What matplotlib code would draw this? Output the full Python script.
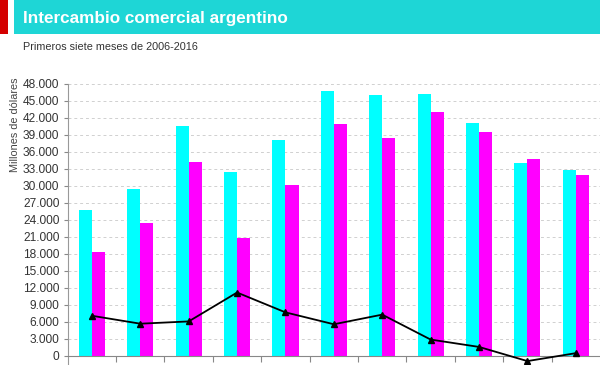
import matplotlib.pyplot as plt
from matplotlib.patches import Rectangle
from matplotlib.ticker import FuncFormatter
import numpy as np

plt.rcParams['font.family'] = ['Liberation Sans', 'DejaVu Sans']

years = ['2006', '2007', '2008', '2009', '2010', '2011', '2012', '2013', '2014', '2015', '2016']
exportaciones = [25700, 29400, 40600, 32400, 38200, 46800, 46000, 46300, 41200, 34100, 32800]
importaciones = [18300, 23400, 34300, 20900, 30200, 40900, 38400, 43100, 39500, 34700, 31900]
saldo = [7100, 5700, 6100, 11200, 7700, 5600, 7300, 2900, 1600, -900, 500]

fig = plt.figure(figsize=(6, 3.65), dpi=100)

# banner
fig.patches.append(Rectangle((0, 0.907), 8 / 600, 0.093, transform=fig.transFigure,
                             facecolor='#d40000', edgecolor='none'))
fig.patches.append(Rectangle((14 / 600, 0.907), 1, 0.093, transform=fig.transFigure,
                             facecolor='#1ed6d6', edgecolor='none'))
fig.text(23 / 600, 1 - 18 / 365, 'Intercambio comercial argentino', color='white',
         fontsize=12.3, fontweight='bold', va='center', ha='left')
fig.text(23 / 600, 1 - 47 / 365, 'Primeros siete meses de 2006-2016', color='#333333',
         fontsize=7.8, va='center', ha='left')
fig.text(15 / 600, 1 - 77 / 365, 'Millones de dólares', color='#444444',
         fontsize=7.8, rotation=90, va='top', ha='center')

ax = fig.add_axes([67.7 / 600, 0, 1 - 67.7 / 600, (365 - 84) / 365])
x = np.arange(len(years))
w = 0.27
ax.bar(x - w / 2, exportaciones, w, color='#00ffff', zorder=2)
ax.bar(x + w / 2, importaciones, w, color='#ff00ff', zorder=2)
ax.plot(x, saldo, color='black', lw=1.3, marker='^', ms=4, zorder=3)

ax.set_xlim(-0.5, len(years) - 0.5)
ax.set_ylim(-1590, 48000)
ax.set_yticks(np.arange(0, 48001, 3000))
ax.yaxis.set_major_formatter(FuncFormatter(lambda v, p: f'{int(v):,}'.replace(',', '.')))
ax.set_xticks(np.arange(0.5, len(years) - 0.5, 1))
ax.set_xticklabels([])
ax.tick_params(axis='x', direction='out', length=4, color='#888888')
ax.tick_params(axis='y', direction='out', length=3, color='#888888', labelsize=8.6,
               labelcolor='#333333', pad=3)
ax.grid(axis='y', color='#d0d0d0', ls=(0, (3, 3)), lw=0.7, zorder=0)
for s in ['top', 'right']:
    ax.spines[s].set_visible(False)
ax.spines['bottom'].set_position(('data', 0))
ax.spines['bottom'].set_color('#888888')
ax.spines['left'].set_color('#999999')

fig.savefig('out.png', dpi=100)
